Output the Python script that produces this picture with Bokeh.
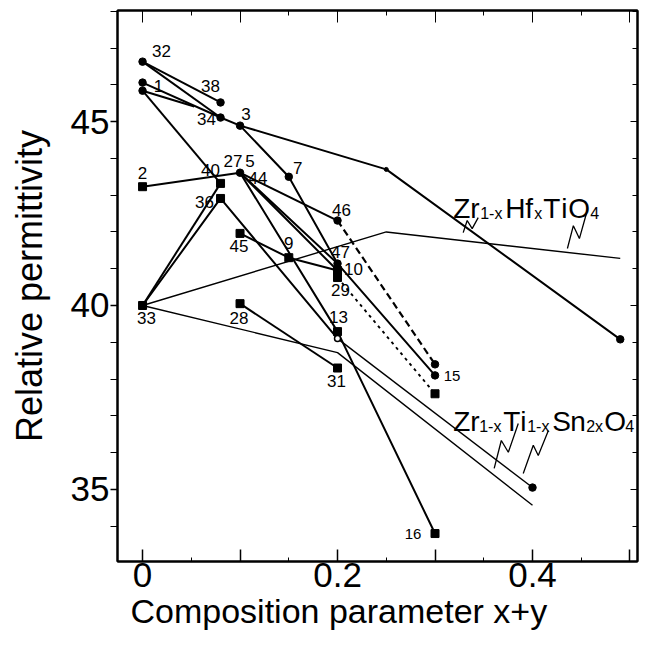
from bokeh.plotting import figure
from bokeh.models import Range1d, LinearAxis, FixedTicker, ColumnDataSource, Title
from bokeh.embed import file_html
from bokeh.resources import INLINE
from bokeh.core.properties import value

# ---------------- data ----------------
# axis ticks
x_major = [0.0, 0.1, 0.2, 0.3, 0.4, 0.5]
x_minor = [0.05, 0.15, 0.25, 0.35, 0.45]
x_tick_text = {0.0: "0", 0.1: "", 0.2: "0.2", 0.3: "", 0.4: "0.4", 0.5: ""}
y_major = [35, 40, 45]
y_minor = [33, 34, 36, 37, 38, 39, 41, 42, 43, 44, 46, 47, 48]

# filled circle markers
circ_x = [0.00, 0.00, 0.00, 0.08, 0.08, 0.10, 0.10, 0.15, 0.20, 0.20, 0.30, 0.30, 0.40, 0.49]
circ_y = [46.63, 46.06, 45.84, 45.52, 45.11, 44.89, 43.61, 43.50, 42.31, 41.14, 38.40, 38.10, 35.05, 39.08]
# small dot on the upper-right curve
dot_x = [0.25]
dot_y = [43.70]
# open circle
open_x = [0.20]
open_y = [39.10]
# filled square markers
sq_x = [0.00, 0.08, 0.08, 0.10, 0.15, 0.20, 0.20, 0.00, 0.10, 0.20, 0.20, 0.30, 0.30]
sq_y = [43.23, 43.32, 42.91, 41.96, 41.30, 40.95, 40.76, 40.00, 40.05, 39.29, 38.30, 33.80, 37.60]

# sample numbers
lab_text = ["32", "1", "38", "34", "3", "7", "40", "27", "5", "44", "2", "36", "45", "9",
            "46", "47", "10", "29", "13", "33", "28", "31", "16", "15"]
lab_x = [0.00, 0.00, 0.08, 0.08, 0.10, 0.15, 0.08, 0.10, 0.10, 0.10, 0.00, 0.08, 0.10, 0.15,
         0.20, 0.20, 0.20, 0.20, 0.20, 0.00, 0.10, 0.20, 0.30, 0.30]
lab_y = [46.63, 46.06, 45.52, 45.11, 44.89, 43.50, 43.32, 43.61, 43.61, 43.61, 43.23, 42.91, 41.96, 41.30,
         42.31, 41.14, 40.95, 40.76, 39.29, 40.00, 40.05, 38.30, 33.80, 38.10]

# connecting lines (solid, thick)
l_32_38_x = [0.00, 0.08];              l_32_38_y = [46.63, 45.52]
l_32_34_x = [0.00, 0.08];              l_32_34_y = [46.63, 45.11]
l_1_34_x = [0.00, 0.08];               l_1_34_y = [46.06, 45.11]
l_1b_x = [0.00, 0.053];                l_1b_y = [45.84, 45.41]
l_1b_40_x = [0.00, 0.08];              l_1b_40_y = [45.84, 43.32]
l_34_3_x = [0.08, 0.10];               l_34_3_y = [45.11, 44.89]
l_3_7_47_x = [0.10, 0.15, 0.20];       l_3_7_47_y = [44.89, 43.50, 41.14]
l_3_hf_x = [0.10, 0.25, 0.49];         l_3_hf_y = [44.89, 43.70, 39.08]
l_2_27_x = [0.00, 0.10];               l_2_27_y = [43.23, 43.61]
l_27_46_x = [0.10, 0.20];              l_27_46_y = [43.61, 42.31]
l_27_47_15_x = [0.10, 0.20, 0.30];     l_27_47_15_y = [43.61, 41.14, 38.10]
l_27_10_x = [0.10, 0.20];              l_27_10_y = [43.61, 40.95]
l_27_13_16_x = [0.10, 0.20, 0.30];     l_27_13_16_y = [43.61, 39.29, 33.80]
l_33_40_x = [0.00, 0.08];              l_33_40_y = [40.00, 43.32]
l_33_36_13_x = [0.00, 0.08, 0.20];     l_33_36_13_y = [40.00, 42.91, 39.10]
l_45_9_10_x = [0.10, 0.15, 0.20];      l_45_9_10_y = [41.96, 41.30, 40.95]
l_28_31_x = [0.10, 0.20];              l_28_31_y = [40.05, 38.30]
# dashed / dotted
l_46_15_x = [0.20, 0.30];              l_46_15_y = [42.31, 38.40]
l_29_x = [0.20, 0.30];                 l_29_y = [40.76, 37.60]
# thin lines
l_13_sn_x = [0.20, 0.40];              l_13_sn_y = [39.10, 35.05]
l_33_sn_x = [0.00, 0.20, 0.40];        l_33_sn_y = [40.00, 38.72, 34.57]
l_33_hf_x = [0.00, 0.25, 0.49];        l_33_hf_y = [40.00, 42.00, 41.28]

# zig-zag leader marks
zz_hf1_x = [0.3289, 0.3330, 0.3381, 0.3443]; zz_hf1_y = [41.98, 42.31, 42.09, 42.39]
zz_hf2_x = [0.4358, 0.4419, 0.4481, 0.4553]; zz_hf2_y = [41.55, 42.17, 41.82, 42.50]
zz_sn1_x = [0.3607, 0.3680, 0.3752, 0.3854]; zz_sn1_y = [35.57, 36.33, 36.01, 36.79]
zz_sn2_x = [0.3905, 0.4008, 0.4059, 0.4163]; zz_sn2_y = [35.43, 36.20, 35.92, 36.60]

# ---------------- styles / layout ----------------
lab_dx = [19, 16, -10, -14, 6, 9, -10, -7, 10, 18, 0, -16, -1, 0, 4, 3, 16, 3, 1, 4, -1, -1, -22, 17]
lab_dy = [-11, 3, -16, 1, -12, -9, -13, -12, -12, 5, -14, 4, 13, -15, -11, -12, -2, 12, -15, 13, 14, 13, 0, 1]
lab_size = ["17px"] * 22 + ["15px", "15px"]

FONT = "Liberation Sans"

p = figure(width=645, height=645,
           x_range=Range1d(-0.0257, 0.5077), y_range=Range1d(33.04, 48.02),
           output_backend="svg", toolbar_location=None,
           min_border_left=117, min_border_right=8, min_border_top=10, min_border_bottom=84)
p.xgrid.visible = False
p.ygrid.visible = False
p.outline_line_color = "black"
p.outline_line_width = 2
p.background_fill_color = "white"
p.border_fill_color = "white"

xt = FixedTicker(ticks=x_major, minor_ticks=x_minor)
yt = FixedTicker(ticks=y_major, minor_ticks=y_minor)

xa = p.xaxis[0]
xa.ticker = xt
xa.major_label_overrides = x_tick_text
xa.major_tick_in = 12; xa.major_tick_out = 0
xa.minor_tick_in = 4; xa.minor_tick_out = 0
xa.axis_line_width = 2
xa.major_tick_line_width = 1.5
xa.major_label_text_font = FONT
xa.major_label_text_font_size = "35px"
xa.major_label_text_color = "black"
xa.major_label_standoff = 1

xtitle = Title(text="Composition parameter x+y", align="left", offset=13, standoff=0,
               text_font=FONT, text_font_size="34px", text_font_style="normal",
               text_color="black")
p.add_layout(xtitle, "below")

ya = p.yaxis[0]
ya.ticker = yt
ya.major_tick_in = 0; ya.major_tick_out = 7
ya.minor_tick_in = 0; ya.minor_tick_out = 7
ya.axis_line_width = 2
ya.major_tick_line_width = 1.5
ya.major_label_text_font = FONT
ya.major_label_text_font_size = "35px"
ya.major_label_text_color = "black"
ya.major_label_standoff = 1
ya.axis_label = "Relative permittivity"
ya.axis_label_text_font = FONT
ya.axis_label_text_font_size = "36px"
ya.axis_label_text_font_style = "normal"
ya.axis_label_text_color = "black"
ya.axis_label_standoff = 18

blank_y = {v: "" for v in y_major}
blank_x = {v: "" for v in x_major}
ra = LinearAxis(ticker=yt, major_label_overrides=blank_y, major_label_standoff=0,
                major_tick_in=7, major_tick_out=0, minor_tick_in=5, minor_tick_out=0,
                axis_line_width=2)
p.add_layout(ra, "right")
ta = LinearAxis(ticker=xt, major_label_overrides=blank_x, major_label_standoff=0,
                major_tick_in=12, major_tick_out=0, minor_tick_in=5, minor_tick_out=0,
                axis_line_width=2)
p.add_layout(ta, "above")

# lines
thick = [(l_32_38_x, l_32_38_y), (l_32_34_x, l_32_34_y), (l_1_34_x, l_1_34_y), (l_1b_x, l_1b_y),
         (l_1b_40_x, l_1b_40_y), (l_34_3_x, l_34_3_y), (l_3_7_47_x, l_3_7_47_y), (l_3_hf_x, l_3_hf_y),
         (l_2_27_x, l_2_27_y), (l_27_46_x, l_27_46_y), (l_27_47_15_x, l_27_47_15_y),
         (l_27_10_x, l_27_10_y), (l_27_13_16_x, l_27_13_16_y), (l_33_40_x, l_33_40_y),
         (l_33_36_13_x, l_33_36_13_y), (l_45_9_10_x, l_45_9_10_y), (l_28_31_x, l_28_31_y)]
for xs, ys in thick:
    p.line(xs, ys, line_color="black", line_width=2)

p.line(l_46_15_x, l_46_15_y, line_color="black", line_width=2.2, line_dash="7 4")
p.line(l_29_x, l_29_y, line_color="black", line_width=1.9, line_dash="3 4")

for xs, ys in [(l_13_sn_x, l_13_sn_y), (l_33_sn_x, l_33_sn_y), (l_33_hf_x, l_33_hf_y)]:
    p.line(xs, ys, line_color="black", line_width=1.4)

for xs, ys in [(zz_hf1_x, zz_hf1_y), (zz_hf2_x, zz_hf2_y), (zz_sn1_x, zz_sn1_y), (zz_sn2_x, zz_sn2_y)]:
    p.line(xs, ys, line_color="black", line_width=1.3)

# markers
p.scatter(circ_x, circ_y, marker="circle", size=7.5, fill_color="black", line_color="black")
p.scatter(dot_x, dot_y, marker="circle", size=4, fill_color="black", line_color="black")
p.scatter(sq_x, sq_y, marker="square", size=8, fill_color="black", line_color="black")
p.scatter(open_x, open_y, marker="circle", size=6, fill_color="white", line_color="black", line_width=1.5)

# sample numbers
src = ColumnDataSource(dict(x=lab_x, y=lab_y, t=lab_text, dx=lab_dx, dy=lab_dy, fs=lab_size))
p.text(x="x", y="y", text="t", x_offset="dx", y_offset="dy", text_font_size="fs",
       text_font=value(FONT), text_align="center", text_baseline="middle",
       text_color="black", source=src)

# formula labels (spaced letters, with subscripts)
def formula(x0, y0, pieces):
    for txt, dx, sub in pieces:
        p.text(x=[x0], y=[y0], text=[txt], x_offset=dx, y_offset=(5 if sub else 0),
               text_font=value(FONT), text_font_size=("16px" if sub else "28px"),
               text_align="left", text_baseline="alphabetic", text_color="black")

formula(0.3186, 42.64, [("Z", 0, False), ("r", 17, False), ("1-x", 27, True), ("H", 52, False),
                        ("f", 72, False), ("x", 81, True), ("T", 90, False), ("i", 108, False),
                        ("O", 115, False), ("4", 137, True)])
formula(0.3186, 36.85, [("Z", 0, False), ("r", 17, False), ("1-x", 26, True), ("T", 50, False),
                        ("i", 67, False), ("1-x", 74, True), ("S", 99, False), ("n", 117, False),
                        ("2x", 133, True), ("O", 151, False), ("4", 172, True)])

open("out.html", "w").write(file_html(p, INLINE))
